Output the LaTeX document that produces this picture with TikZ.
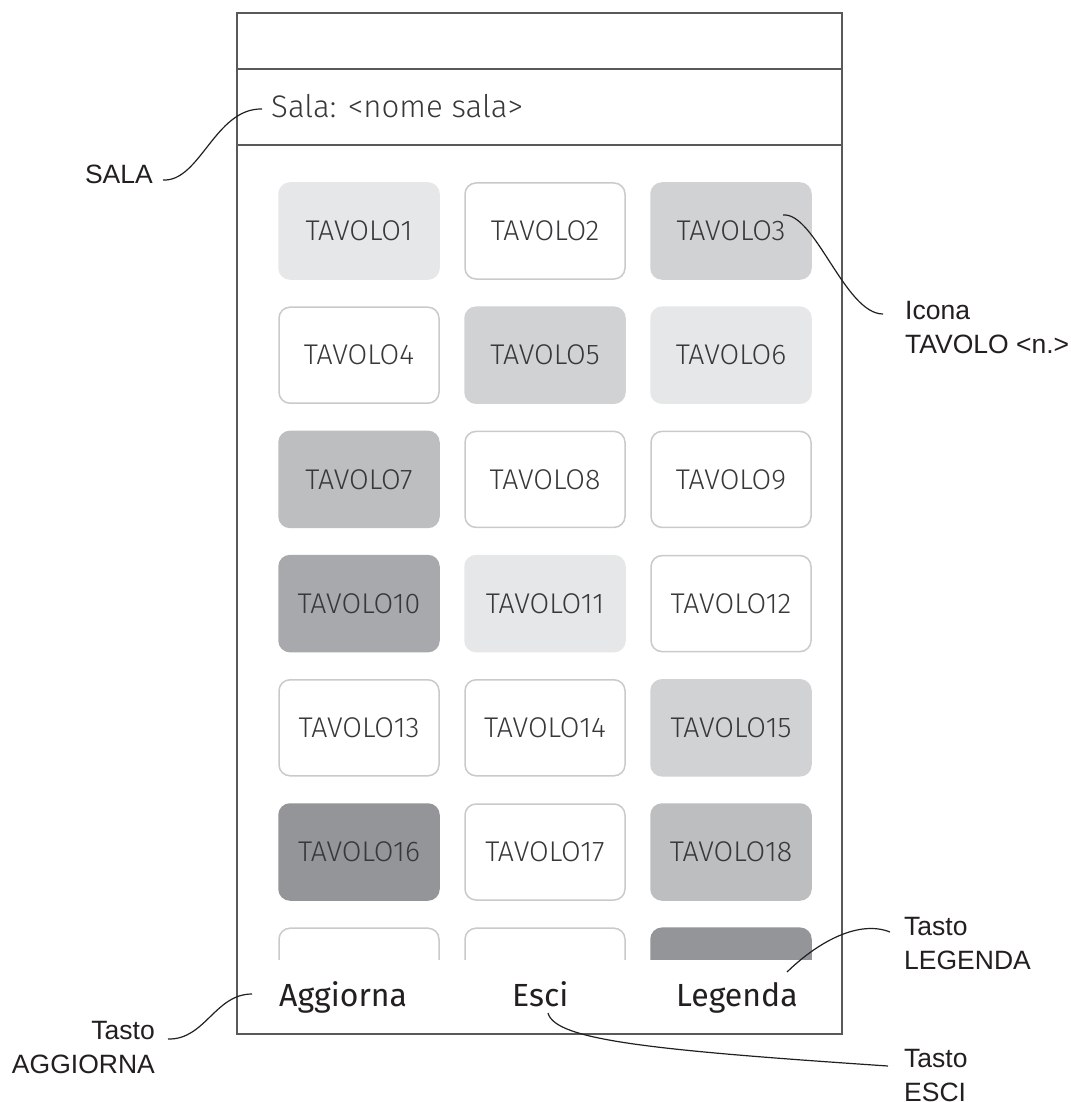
\documentclass[tikz,border=0pt]{standalone}
\usepackage{fontspec}
\setmainfont{Liberation Sans}
\newfontfamily\lightfont{Fira Sans Light}
\newfontfamily\regfont{Fira Sans}
\definecolor{cA}{HTML}{E6E7E8}
\definecolor{cB}{HTML}{D1D2D4}
\definecolor{cC}{HTML}{BCBEC0}
\definecolor{cD}{HTML}{A7A9AC}
\definecolor{cE}{HTML}{939598}
\definecolor{edge}{HTML}{C9CACC}
\definecolor{framec}{HTML}{58595B}
\definecolor{ink}{HTML}{231F20}
\definecolor{tileink}{HTML}{38383A}
\begin{document}
\begin{tikzpicture}[x=1pt,y=-1pt,
  frameline/.style={draw=framec,line width=1.3pt},
  tile/.style={rounded corners=11pt,minimum width=160pt,minimum height=96pt,inner sep=0pt,
     text=tileink,font=\lightfont\fontsize{28.5}{33}\selectfont,line width=1.5pt},
  btn/.style={anchor=base west,inner sep=0pt,text=ink,font=\regfont\fontsize{32}{38}\selectfont},
  callout/.style={inner sep=0pt,text=ink,font=\fontsize{26.5}{34}\selectfont},
  leader/.style={draw=ink,line width=1.2pt}]
\useasboundingbox[fill=white] (0,0) rectangle (1070,1102);
% tiles
\begin{scope}
\clip (237,13) rectangle (843,959);
\foreach [count=\n] \f/\d/\t in {cA/cA/TAVOLO1, white/edge/TAVOLO2, cB/cB/TAVOLO3,
  white/edge/TAVOLO4, cB/cB/TAVOLO5, cA/cA/TAVOLO6,
  cC/cC/TAVOLO7, white/edge/TAVOLO8, white/edge/TAVOLO9,
  cD/cD/TAVOLO10, cA/cA/TAVOLO11, white/edge/TAVOLO12,
  white/edge/TAVOLO13, white/edge/TAVOLO14, cB/cB/TAVOLO15,
  cE/cE/TAVOLO16, white/edge/TAVOLO17, cC/cC/TAVOLO18,
  white/edge/{}, white/edge/{}, cE/cE/{}} {
  \pgfmathtruncatemacro\r{int((\n-1)/3)}
  \pgfmathtruncatemacro\k{mod(\n-1,3)}
  \pgfmathsetmacro\xx{359+\k*186}
  \pgfmathsetmacro\yy{231+\r*124.2}
  \node[tile,fill=\f,draw=\d] (t\n) at (\xx,\yy) {\t};
}
\end{scope}
% phone frame
\draw[frameline] (237,13) rectangle (842,1034);
\draw[frameline] (237,69) -- (842,69);
\draw[frameline] (237,145) -- (842,145);
% header text
\node[anchor=base west,inner sep=0pt,text=tileink,font=\lightfont\fontsize{31.2}{38}\selectfont] (salaT) at (271,118) {Sala: <nome sala>};
% buttons
\node[btn] (agg) at (279,1006) {Aggiorna};
\node[btn] (esci) at (512,1006) {Esci};
\node[btn] (leg) at (676,1006) {Legenda};
% callout labels
\node[callout,anchor=base east] (salaL) at (153,183) {SALA};
\node[callout,anchor=north west,align=left] (iconaL) at (905,301) {Icona\\TAVOLO <n.>};
\node[callout,anchor=north west,align=left] (legL) at (904,917) {Tasto\\LEGENDA};
\node[callout,anchor=north west,align=left] (esciL) at (904,1049) {Tasto\\ESCI};
\node[callout,anchor=north east,align=right] (aggL) at (155,1021) {Tasto\\AGGIORNA};
% connector end points
\coordinate (salaA) at (163,180);
\coordinate (salaB) at (262,109);
\coordinate (iconaA) at (783,215);
\coordinate (iconaB) at (883,314);
\coordinate (legA) at (787,972);
\coordinate (legB) at (890,932);
\coordinate (esciA) at (548,1013);
\coordinate (esciB) at (888,1066);
\coordinate (aggA) at (168,1039);
\coordinate (aggB) at (252,994);
% connectors
\draw[leader] (salaA) .. controls (200,182) and (215,108) .. (salaB);
\draw[leader] (iconaA) .. controls (815,212) and (845,314) .. (iconaB);
\draw[leader] (legA) .. controls (820,940) and (860,920) .. (legB);
\draw[leader] (esciA) .. controls (555,1040) and (650,1050) .. (esciB);
\draw[leader] (aggA) .. controls (205,1040) and (215,994) .. (aggB);
\end{tikzpicture}
\end{document}
